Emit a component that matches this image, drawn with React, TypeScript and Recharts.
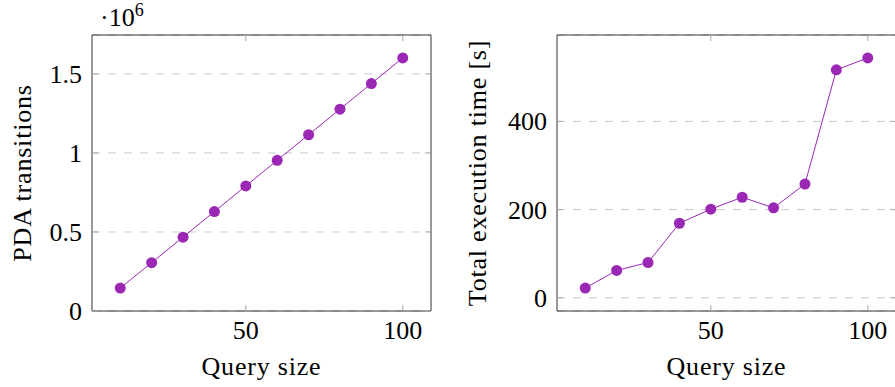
import React from "react";
import {
  LineChart,
  Line,
  XAxis,
  YAxis,
  CartesianGrid,
  ReferenceArea,
} from "recharts";

const querySizes = [10, 20, 30, 40, 50, 60, 70, 80, 90, 100];
const pdaTransitions = [
  145000, 306000, 467000, 629000, 791000, 953000, 1115000, 1277000, 1439000,
  1601000,
];
const execTimes = [22, 62, 80, 169, 201, 228, 204, 258, 517, 544];

const xTicks = [50, 100];
const transitionTicks = [0, 500000, 1000000, 1500000];
const timeTicks = [0, 200, 400];

const xDomain: [number, number] = [1, 109];
const transitionDomain: [number, number] = [0, 1746000];
const timeDomain: [number, number] = [-30, 596];

const transitionData = querySizes.map((x, i) => ({ x, y: pdaTransitions[i] }));
const timeData = querySizes.map((x, i) => ({ x, y: execTimes[i] }));

const PURPLE = "#9b27b5";
const FONT = "Liberation Serif, DejaVu Serif, serif";
const PLOT_H = 276;
const PLOT_W = 339;
const TICK = "#a8a8a8";

const txt = { fontFamily: FONT, fontSize: 26, fill: "#000" };

const XTick = (props: any) => {
  const { x, y, payload } = props;
  return (
    <g>
      <line x1={x} x2={x} y1={y} y2={y - 6} stroke={TICK} />
      <line x1={x} x2={x} y1={y - PLOT_H} y2={y - PLOT_H + 6} stroke={TICK} />
      <text x={x} y={y + 28} textAnchor="middle" style={txt}>
        {payload.value}
      </text>
    </g>
  );
};

const makeYTick = (fmt: (v: number) => string) => (props: any) => {
  const { x, y, payload } = props;
  return (
    <g>
      <line x1={x} x2={x + 6} y1={y} y2={y} stroke={TICK} />
      <line x1={x + PLOT_W - 6} x2={x + PLOT_W} y1={y} y2={y} stroke={TICK} />
      <text x={x - 10} y={y + 9} textAnchor="end" style={txt}>
        {fmt(payload.value)}
      </text>
    </g>
  );
};

const xTitle = (text: string) => (props: any) => {
  const vb = props.viewBox || {};
  return (
    <text
      x={vb.x + vb.width / 2}
      y={vb.y + 64}
      textAnchor="middle"
      style={{ ...txt, letterSpacing: 0.8 }}
    >
      {text}
    </text>
  );
};

const yTitle = (text: string, cx: number) => (props: any) => {
  const vb = props.viewBox || {};
  const cy = vb.y + vb.height / 2;
  const x = vb.x + cx;
  return (
    <text
      x={x}
      y={cy}
      transform={`rotate(-90 ${x} ${cy})`}
      textAnchor="middle"
      dominantBaseline="central"
      style={{ ...txt, letterSpacing: 0.8 }}
    >
      {text}
    </text>
  );
};

export default function App() {
  return (
    <div
      style={{
        position: "absolute",
        left: 0,
        top: 0,
        width: 895,
        height: 387,
        overflow: "hidden",
        background: "#fff",
        fontFamily: FONT,
      }}
    >
      <div style={{ position: "absolute", left: 0, top: 0 }}>
        <LineChart
          width={440}
          height={387}
          data={transitionData}
          margin={{ top: 35, right: 9, bottom: 0, left: 0 }}
        >
          <CartesianGrid
            vertical={false}
            stroke="#cccccc"
            strokeDasharray="8 8"
          />
          <XAxis
            type="number"
            dataKey="x"
            domain={xDomain}
            ticks={xTicks}
            allowDataOverflow
            axisLine={false}
            tickLine={false}
            tickSize={0}
            tickMargin={0}
            height={76}
            tick={XTick}
            label={xTitle("Query size")}
          />
          <YAxis
            type="number"
            dataKey="y"
            domain={transitionDomain}
            ticks={transitionTicks}
            allowDataOverflow
            axisLine={false}
            tickLine={false}
            tickSize={0}
            tickMargin={0}
            width={92}
            tick={makeYTick((v) => String(v / 1e6))}
            label={yTitle("PDA transitions", 22)}
          />
          <ReferenceArea
            x1={xDomain[0]}
            x2={xDomain[1]}
            y1={transitionDomain[0]}
            y2={transitionDomain[1]}
            fill="none"
            stroke="#333"
            strokeWidth={1}
            ifOverflow="visible"
          />
          <Line
            type="linear"
            dataKey="y"
            stroke={PURPLE}
            strokeWidth={1}
            dot={{ r: 5.5, fill: PURPLE, stroke: PURPLE, strokeWidth: 0 }}
            isAnimationActive={false}
          />
        </LineChart>
      </div>
      <div style={{ position: "absolute", left: 450, top: 0 }}>
        <LineChart
          width={450}
          height={387}
          data={timeData}
          margin={{ top: 35, right: 4, bottom: 0, left: 0 }}
        >
          <CartesianGrid
            vertical={false}
            stroke="#cccccc"
            strokeDasharray="8 8"
          />
          <XAxis
            type="number"
            dataKey="x"
            domain={xDomain}
            ticks={xTicks}
            allowDataOverflow
            axisLine={false}
            tickLine={false}
            tickSize={0}
            tickMargin={0}
            height={76}
            tick={XTick}
            label={xTitle("Query size")}
          />
          <YAxis
            type="number"
            dataKey="y"
            domain={timeDomain}
            ticks={timeTicks}
            allowDataOverflow
            axisLine={false}
            tickLine={false}
            tickSize={0}
            tickMargin={0}
            width={107}
            tick={makeYTick((v) => String(v))}
            label={yTitle("Total execution time [s]", 27)}
          />
          <ReferenceArea
            x1={xDomain[0]}
            x2={xDomain[1]}
            y1={timeDomain[0]}
            y2={timeDomain[1]}
            fill="none"
            stroke="#333"
            strokeWidth={1}
            ifOverflow="visible"
          />
          <Line
            type="linear"
            dataKey="y"
            stroke={PURPLE}
            strokeWidth={1}
            dot={{ r: 5.5, fill: PURPLE, stroke: PURPLE, strokeWidth: 0 }}
            isAnimationActive={false}
          />
        </LineChart>
      </div>
      <svg
        width={895}
        height={387}
        style={{ position: "absolute", left: 0, top: 0, pointerEvents: "none" }}
      >
        <text x={100} y={26} style={txt}>
          {"\u00b710"}
          <tspan dy={-10} style={{ fontSize: 18 }}>
            6
          </tspan>
        </text>
      </svg>
    </div>
  );
}
